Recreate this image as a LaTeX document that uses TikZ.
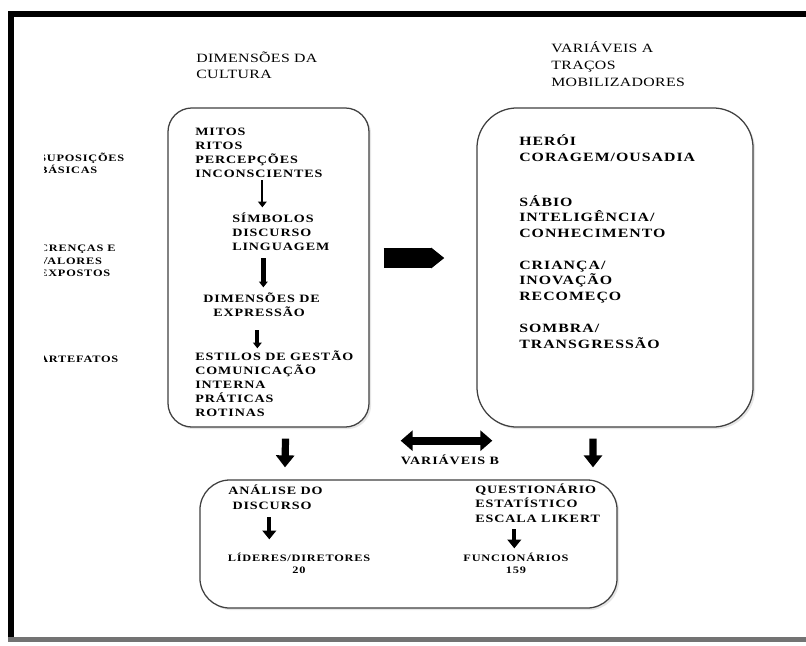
\documentclass[tikz,border=0pt]{standalone}
\usepackage{fontspec}
\setmainfont{Liberation Serif}
\newfontfamily\cxfont[FakeStretch=1.25, LetterSpace=8]{Liberation Serif}
\newfontfamily\hdfont[FakeStretch=1.25, LetterSpace=3]{Liberation Serif}
\usetikzlibrary{arrows.meta,positioning,calc,shadows}

\begin{document}
\begin{tikzpicture}[
    x=0.025cm, y=-0.025cm,
    panel/.style={draw=black!75, line width=0.9pt, fill=white, rounded corners=#1,
      inner sep=0pt, drop shadow={opacity=0.2, shadow xshift=1.5pt, shadow yshift=-1.5pt}},
    ttl/.style={font=\hdfont\fontsize{9}{#1}\selectfont, align=left, inner sep=0pt, anchor=base west},
    txtL/.style={font=\cxfont\bfseries\fontsize{8}{9.9}\selectfont, align=left, inner sep=0pt, anchor=base west},
    txtR/.style={font=\cxfont\bfseries\fontsize{9}{11}\selectfont, align=left, inner sep=0pt, anchor=base west},
    txtB/.style={font=\cxfont\bfseries\fontsize{8}{10.2}\selectfont, align=left, inner sep=0pt, anchor=base west},
    txtS/.style={font=\cxfont\bfseries\fontsize{7}{8.6}\selectfont, align=center, inner sep=0pt, anchor=base},
    sidelbl/.style={font=\cxfont\bfseries\fontsize{7}{8.8}\selectfont, align=left, inner sep=0pt, anchor=base west},
    fatarr/.style={line width=0.18cm, -{Triangle[length=0.3cm,width=0.45cm]}},
    medarr/.style={line width=0.1cm, -{Triangle[length=0.22cm,width=0.34cm]}},
    smarr/.style={line width=#1, -{Triangle[length=4pt,width=6pt]}},
    dblarr/.style={line width=0.2cm, {Triangle[length=0.3cm,width=0.5cm]}-{Triangle[length=0.3cm,width=0.5cm]}},
    bigarr/.style={line width=0.5cm, -{Triangle[length=0.33cm,width=0.5cm]}},
  ]
  \useasboundingbox (0,0) rectangle (806,645);

  % Frame
  \fill[black] (8,11) rectangle (806,17);
  \fill[black] (8,11) rectangle (14,641);
  \fill[black!55] (8,637) rectangle (806,642);

  % Titles (anchored on their last line)
  \node[ttl=10.7pt] (titcult) at (196,78) {DIMENSÕES DA\\CULTURA};
  \node[ttl=12pt] (titvar) at (551,86) {VARIÁVEIS A\\TRAÇOS\\MOBILIZADORES};

  % Boxes
  \node[panel=0.6cm, minimum width=5.025cm, minimum height=7.975cm] (cultura) at (268.5,267.5) {};
  \node[panel=1cm, minimum width=6.9cm, minimum height=7.975cm] (rasgos) at (615,267.5) {};
  \node[panel=0.75cm, minimum width=10.425cm, minimum height=3.2cm] (metodo) at (408.5,544) {};

  % Side labels (cut at the left)
  \begin{scope}
    \clip (44.5,100) rectangle (160,400);
    \node[sidelbl] (supos) at (39,173.5) {SUPOSIÇÕES\\BÁSICAS};
    \node[sidelbl] (crencas) at (39,276.5) {CRENÇAS E\\VALORES\\EXPOSTOS};
    \node[sidelbl] (artef) at (39,362.5) {ARTEFATOS};
  \end{scope}

  % Left box
  \node[txtL] (basicas) at (195,177) {MITOS\\RITOS\\PERCEPÇÕES\\INCONSCIENTES};
  \node[txtL] (simbolos) at (232,250) {SÍMBOLOS\\DISCURSO\\LINGUAGEM};
  \node[txtL] (expressao) at (203,316) {DIMENSÕES DE\\\hspace{0.25cm}EXPRESSÃO};
  \node[txtL] (estilos) at (195,416) {ESTILOS DE GESTÃO\\COMUNICAÇÃO\\INTERNA\\PRÁTICAS\\ROTINAS};

  \draw[smarr=1.5pt] ($(cultura.north west)+(95,73)$) -- ($(cultura.north west)+(95,100)$);
  \draw[smarr=3.5pt] ($(cultura.north west)+(96,151)$) -- ($(cultura.north west)+(96,180)$);
  \draw[smarr=3pt] ($(cultura.north west)+(90,223)$) -- ($(cultura.north west)+(90,241)$);

  % Right box
  \node[txtR] (heroi) at (519,161) {HERÓI\\CORAGEM/OUSADIA};
  \node[txtR] (sabio) at (519,237) {SÁBIO\\INTELIGÊNCIA/\\CONHECIMENTO};
  \node[txtR] (crianca) at (519,300) {CRIANÇA/\\INOVAÇÃO\\RECOMEÇO};
  \node[txtR] (sombra) at (519,348) {SOMBRA/\\TRANSGRESSÃO};

  % Arrows between boxes
  \draw[bigarr] ($(cultura.east)+(14,-9.5)$) -- ($(rasgos.west)+(-32,-9.5)$);
  \draw[dblarr] ($(cultura.south east)+(31,13)$) -- ($(rasgos.south west)+(16,13)$);
  \node[txtB, anchor=base] (varb) at (450,464) {VARIÁVEIS B};
  \draw[fatarr] ($(cultura.south)+(17,11)$) -- ($(metodo.north)+(-123.5,-12)$);
  \draw[fatarr] ($(rasgos.south)+(-22,11)$) -- ($(metodo.north)+(184.5,-12)$);

  % Bottom box
  \node[txtB] (analise) at (228,509) {ANÁLISE DO\\\hspace{3pt}DISCURSO};
  \node[txtB] (quest) at (475,522) {QUESTIONÁRIO\\ESTATÍSTICO\\ESCALA LIKERT};
  \node[txtS] (lideres) at (299,573.5) {LÍDERES/DIRETORES\\20};
  \node[txtS] (func) at (516,573.5) {FUNCIONÁRIOS\\159};
  \draw[medarr] ($(metodo.north west)+(70,38)$) -- ($(metodo.north west)+(70,60)$);
  \draw[medarr] ($(metodo.north west)+(315,50)$) -- ($(metodo.north west)+(315,69)$);

\end{tikzpicture}
\end{document}
